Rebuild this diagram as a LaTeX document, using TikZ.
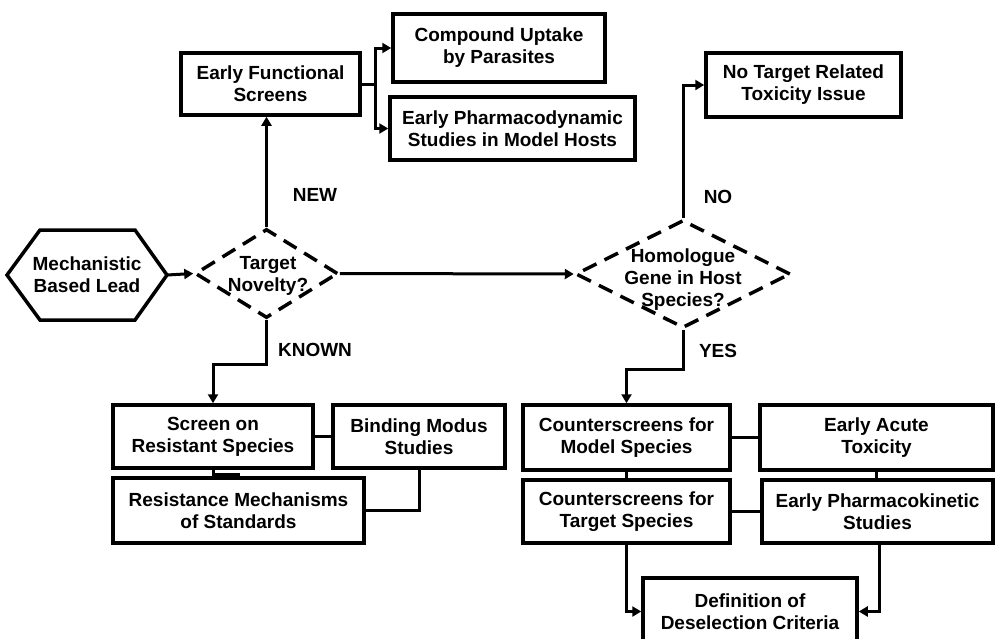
\documentclass[tikz,border=0pt]{standalone}
\usepackage{fontspec}
\setmainfont{Liberation Sans}
\usetikzlibrary{arrows.meta,shapes.geometric}
\begin{document}
\begin{tikzpicture}[x=1pt,y=-1pt,
  every node/.style={font=\fontsize{19}{22}\selectfont\bfseries, align=center},
  box/.style={draw, line width=3.5pt, rectangle, inner sep=0pt},
  decision/.style={draw, line width=3.5pt, diamond, inner sep=0pt, dash pattern=on 15pt off 9pt},
  conn/.style={line width=3pt},
  arr/.style={conn, -{Triangle[length=9pt,width=10pt]}},
  lbl/.style={inner sep=0pt}
]
\useasboundingbox (0,0) rectangle (995,638);

% start: hexagonal lead
\draw[line width=3.5pt, line join=miter] (7,275) -- (40,230) -- (135,230) -- (167,275) -- (135,320) -- (40,320) -- cycle;
\node (lead) at (87,275) {Mechanistic\\Based Lead};
\coordinate (leadE) at (167,275);

% decisions
\node[decision, minimum width=143pt, minimum height=89pt] (nov) at (266.5,273.5) {};
\node (novT) at (268,276) {Target\\Novelty?};
\node[decision, minimum width=215pt, minimum height=108pt] (hom) at (683,274) {};
\node (homT) at (683,280) {Homologue\\Gene in Host\\Species?};

% upper boxes
\node[box, minimum width=179pt, minimum height=62pt] (efs) at (270.5,84) {Early Functional\\Screens};
\node[box, minimum width=212pt, minimum height=68pt] (cu) at (499,48) {Compound Uptake\\by Parasites};
\node[box, minimum width=245pt, minimum height=63pt] (pd) at (512.5,128.5) {Early Pharmacodynamic\\Studies in Model Hosts};
\node[box, minimum width=195pt, minimum height=64pt] (nt) at (803.5,85) {No Target Related\\Toxicity Issue};

% lower left boxes
\node[box, minimum width=200pt, minimum height=63pt] (scr) at (213,436.5) {Screen on\\Resistant Species};
\node[box, minimum width=172pt, minimum height=63pt] (bind) at (419,436.5) {Binding Modus\\Studies};
\node[box, minimum width=251pt, minimum height=65pt] (res) at (238.5,510.5) {Resistance Mechanisms\\of Standards};

% lower right boxes
\node[box, minimum width=207pt, minimum height=65pt] (cm) at (626.5,437.5) {Counterscreens for\\Model Species};
\node[box, minimum width=233pt, minimum height=65pt] (ea) at (876.5,437.5) {Early Acute\\Toxicity};
\node[box, minimum width=207pt, minimum height=63pt] (ct) at (626.5,511.5) {Counterscreens for\\Target Species};
\node[box, minimum width=231pt, minimum height=63pt] (pk) at (877.5,511.5) {Early Pharmacokinetic\\Studies};
\node[box, minimum width=214pt, minimum height=67pt] (def) at (750,611.5) {Definition of\\Deselection Criteria};

% branch labels
\node[lbl] (lNew) at (315,195) {NEW};
\node[lbl] (lKnown) at (315,350) {KNOWN};
\node[lbl] (lNo) at (718,197) {NO};
\node[lbl] (lYes) at (718,351) {YES};

% connectors
\draw[arr] (leadE) -- (nov.west);
\draw[arr] (nov.north) -- (nov.north |- efs.south);
\draw[arr] (efs.east) -- ++(14,0) |- (cu.west);
\draw[arr] (efs.east) -- ++(14,0) |- (pd.west);
\draw[arr] (nov.east) -- (hom.west);
\draw[arr] (hom.north) |- (nt.west);
\draw[arr] (nov.south) -- ++(0,45) -| (scr.north);
\draw[arr] (hom.south) -- ++(0,40) -| (cm.north);

\draw[conn] (scr.east) -- (bind.west);
\draw[conn] (scr.south) -- ++(0,5) -| (res.north);
\draw[conn] (bind.south) |- (res.east);

\draw[conn] (cm.east) -- (ea.west);
\draw[conn] (ct.east) -- (pk.west);
\draw[conn] (cm.south) -- (ct.north);
\draw[conn] (ea.south) -- (ea.south |- pk.north);
\draw[arr] (ct.south) |- (def.west);
\draw[arr] ([xshift=2pt]pk.south) |- (def.east);
\end{tikzpicture}
\end{document}
